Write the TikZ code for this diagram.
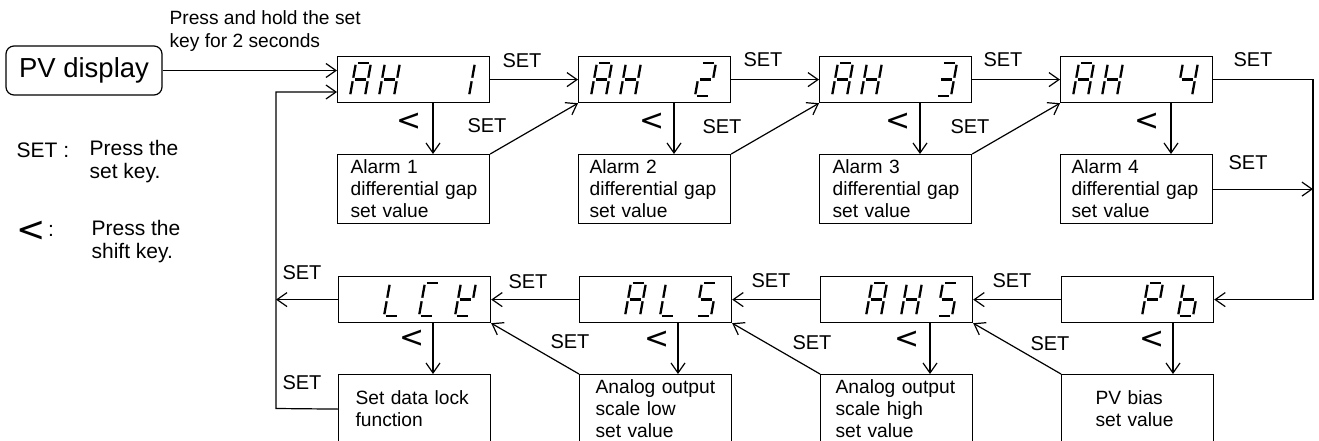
\documentclass[tikz,border=0pt]{standalone}
\usepackage{fontspec}
\setmainfont{Liberation Sans}
\newfontfamily\djv{DejaVu Sans}
\usetikzlibrary{arrows.meta}
% seven-segment glyph segments (u right, w up = negative)
\def\svsega{\draw[segline] (1.8,-33)--(13.2,-33);}
\def\svsegb{\draw[segline] (15,-31.2)--(15,-18.3);}
\def\svsegc{\draw[segline] (15,-14.7)--(15,-1.8);}
\def\svsegd{\draw[segline] (1.8,0)--(13.2,0);}
\def\svsege{\draw[segline] (0,-1.8)--(0,-14.7);}
\def\svsegf{\draw[segline] (0,-18.3)--(0,-31.2);}
\def\svsegg{\draw[segline] (1.8,-16.5)--(13.2,-16.5);}
\def\svA{a,b,c,e,f,g}
\def\svH{b,c,e,f,g}
\def\svI{b,c}
\def\svII{a,b,g,e,d}
\def\svIII{a,b,g,c,d}
\def\svIV{f,g,b,c}
\def\svL{f,e,d}
\def\svC{a,f,e,d}
\def\svK{f,e,d,b,g}
\def\svS{a,f,g,c,d}
\def\svP{a,b,f,g,e}
\def\svb{f,e,g,c,d}
\newcommand\segdigit[3]{%
  \begin{scope}[shift={(#1,#2)},xslant=0.18]
    \foreach \s in #3 {\csname svseg\s\endcsname}
  \end{scope}}
\begin{document}
\begin{tikzpicture}[x=1pt,y=-1pt,line width=1.2pt,
  arr/.style={-{Straight Barb[length=10pt,width=14pt,line width=1.2pt]}},
  disp/.style={draw, minimum width=152pt, minimum height=46pt, inner sep=0pt, anchor=north west},
  subbox/.style={draw, minimum width=152pt, minimum height=69pt, text width=134pt, inner xsep=9pt, inner ysep=0pt, align=left, anchor=north west, font=\fontsize{19.2}{22}\selectfont},
  lbl/.style={inner sep=0pt, font=\fontsize{20}{22}\selectfont},
  shl/.style={inner sep=0pt, font=\djv\fontsize{30}{30}\selectfont},
  segline/.style={line width=2.3pt}]
\useasboundingbox (0,0) rectangle (1319,441);
\clip (0,0) rectangle (1319,441);

% PV display and header
\node[draw, rounded corners=8pt, minimum width=156pt, minimum height=49pt, inner sep=0pt,
      font=\fontsize{27.5}{30}\selectfont] (pv) at (84,70.5) {PV display};
\node[anchor=west, align=left, inner sep=0pt, font=\fontsize{19.2}{23}\selectfont] (hdr) at (169,31.5)
  {Press and hold the set\\key for 2 seconds};

% legend
\node[anchor=west, inner sep=0pt, font=\fontsize{21}{23}\selectfont] (lg1) at (16,150) {SET :};
\node[anchor=west, align=left, inner sep=0pt, font=\fontsize{21}{23}\selectfont] (lg2) at (89,161.5) {Press the\\set key.};
\node[inner sep=0pt, font=\djv\fontsize{35}{35}\selectfont] (lg3) at (31,231) {<};
\node[inner sep=0pt, font=\fontsize{21}{23}\selectfont] (lg4) at (51,231) {:};
\node[anchor=west, align=left, inner sep=0pt, font=\fontsize{21}{23}\selectfont] (lg5) at (91,242) {Press the\\shift key.};

% top row displays
\node[disp] (d1) at (337,56) {};
\node[disp] (d2) at (578,56) {};
\node[disp] (d3) at (819,56) {};
\node[disp] (d4) at (1060,56) {};
\segdigit{350}{96}{\svA}\segdigit{379}{96}{\svH}\segdigit{454}{96}{\svI}
\segdigit{591}{96}{\svA}\segdigit{620}{96}{\svH}\segdigit{695}{96}{\svII}
\segdigit{832}{96}{\svA}\segdigit{861}{96}{\svH}\segdigit{936}{96}{\svIII}
\segdigit{1073}{96}{\svA}\segdigit{1102}{96}{\svH}\segdigit{1177}{96}{\svIV}

% top row sub boxes
\node[subbox] (s1) at (337,154) {\hspace*{4pt}Alarm 1\\\hspace*{4pt}differential gap\\\hspace*{4pt}set value};
\node[subbox] (s2) at (578,154) {\hspace*{2pt}Alarm 2\\\hspace*{2pt}differential gap\\\hspace*{2pt}set value};
\node[subbox] (s3) at (819,154) {\hspace*{4pt}Alarm 3\\\hspace*{4pt}differential gap\\\hspace*{4pt}set value};
\node[subbox] (s4) at (1060,154) {\hspace*{2pt}Alarm 4\\\hspace*{2pt}differential gap\\\hspace*{2pt}set value};

% bottom row displays
\node[disp] (b1) at (338,276) {};
\node[disp] (b2) at (579,276) {};
\node[disp] (b3) at (820,276) {};
\node[disp] (b4) at (1061,276) {};
\segdigit{384}{316}{\svL}\segdigit{419}{316}{\svC}\segdigit{455}{316}{\svK}
\segdigit{625}{316}{\svA}\segdigit{660}{316}{\svL}\segdigit{696}{316}{\svS}
\segdigit{866}{316}{\svA}\segdigit{901}{316}{\svH}\segdigit{937}{316}{\svS}
\segdigit{1142}{316}{\svP}\segdigit{1178}{316}{\svb}

% bottom row sub boxes
\node[subbox] (t1) at (338,374) {\hspace*{8pt}Set data lock\\\hspace*{8pt}function};
\node[subbox] (t2) at (579,374) {\hspace*{7pt}Analog output\\\hspace*{7pt}scale low\\\hspace*{7pt}set value};
\node[subbox] (t3) at (820,374) {\hspace*{6pt}Analog output\\\hspace*{6pt}scale high\\\hspace*{6pt}set value};
\node[subbox] (t4) at (1061,374) {\hspace*{25pt}PV bias\\\hspace*{25pt}set value};

% helper coordinates
\coordinate (fbB) at (276,408.5);
\coordinate (fbT) at (276,92);
\coordinate (rc) at (1313,0);
\coordinate (x1) at (433,0);
\coordinate (x2) at (674,0);
\coordinate (x3) at (920,0);
\coordinate (x4) at (1171,0);
\coordinate (y1) at (433,0);
\coordinate (y2) at (678,0);
\coordinate (y3) at (930,0);
\coordinate (y4) at (1173,0);

% connectors top row
\draw[arr] (pv.east) -- (pv.east -| d1.west);
\draw[arr] (d1.east) -- (d2.west);
\draw[arr] (d2.east) -- (d3.west);
\draw[arr] (d3.east) -- (d4.west);
\draw[arr] (s1.north east) -- (d2.south west);
\draw[arr] (s2.north east) -- (d3.south west);
\draw[arr] (s3.north east) -- (d4.south west);
\draw[arr] (d1.south -| x1) -- (s1.north -| x1);
\draw[arr] (d2.south -| x2) -- (s2.north -| x2);
\draw[arr] (d3.south -| x3) -- (s3.north -| x3);
\draw[arr] (d4.south -| x4) -- (s4.north -| x4);
\draw[arr] (d4.east) -- (d4.east -| rc) -- (b4.east -| rc) -- (b4.east);
\draw[arr] (s4.east) -- (s4.east -| rc);

% connectors bottom row
\draw[arr] (b4.west) -- (b3.east);
\draw[arr] (b3.west) -- (b2.east);
\draw[arr] (b2.west) -- (b1.east);
\draw[arr] (b1.west) -- (b1.west -| fbB);
\draw[arr] (t4.north west) -- (b3.south east);
\draw[arr] (t3.north west) -- (b2.south east);
\draw[arr] (t2.north west) -- (b1.south east);
\draw[arr] (b1.south -| y1) -- (t1.north -| y1);
\draw[arr] (b2.south -| y2) -- (t2.north -| y2);
\draw[arr] (b3.south -| y3) -- (t3.north -| y3);
\draw[arr] (b4.south -| y4) -- (t4.north -| y4);
\draw[arr] (t1.west) -- (fbB) -- (fbT) -- (fbT -| d1.west);

% SET labels
\node[lbl] (l1) at (522,61) {SET};
\node[lbl] (l2) at (763,60) {SET};
\node[lbl] (l3) at (1003,60) {SET};
\node[lbl] (l4) at (1253,60) {SET};
\node[lbl] (l5) at (487,126) {SET};
\node[lbl] (l6) at (722,127) {SET};
\node[lbl] (l7) at (970,127) {SET};
\node[lbl] (l8) at (1248,163) {SET};
\node[lbl] (l9) at (1012,281) {SET};
\node[lbl] (l10) at (771,281) {SET};
\node[lbl] (l11) at (528,282) {SET};
\node[lbl] (l12) at (302,273) {SET};
\node[lbl] (l13) at (302,383) {SET};
\node[lbl] (l14) at (570,342) {SET};
\node[lbl] (l15) at (812,343) {SET};
\node[lbl] (l16) at (1050,344) {SET};

% shift labels
\node[shl] (k1) at (409,122) {<};
\node[shl] (k2) at (652,122) {<};
\node[shl] (k3) at (898,122) {<};
\node[shl] (k4) at (1147,122) {<};
\node[shl] (k5) at (412,339) {<};
\node[shl] (k6) at (657,340) {<};
\node[shl] (k7) at (907,340) {<};
\node[shl] (k8) at (1152,340) {<};
\end{tikzpicture}
\end{document}
